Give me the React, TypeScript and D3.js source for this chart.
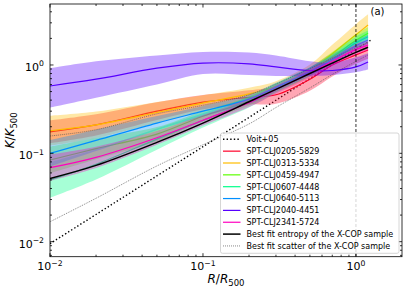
import React from "react";
import * as d3 from "d3";

const radii = [0.01, 0.02, 0.05, 0.1, 0.2, 0.3, 0.5, 0.7, 1.0, 1.2];

// K/K500 per cluster: median, lower and upper envelope
const k0205 = [0.175, 0.21, 0.3, 0.38, 0.43, 0.46, 0.69, 1.0, 1.3, 1.48];
const k0205Lo = [0.13, 0.159, 0.238, 0.316, 0.358, 0.365, 0.511, 0.741, 1.03, 1.18];
const k0205Hi = [0.236, 0.277, 0.378, 0.457, 0.517, 0.579, 0.931, 1.35, 1.64, 1.86];

const k0313 = [0.18, 0.21, 0.29, 0.37, 0.47, 0.57, 0.86, 1.34, 2.2, 2.84];
const k0313Lo = [0.122, 0.149, 0.22, 0.301, 0.4, 0.497, 0.732, 1.064, 1.67, 2.15];
const k0313Hi = [0.266, 0.297, 0.382, 0.455, 0.552, 0.654, 1.01, 1.69, 2.9, 3.74];

const k0459 = [0.084, 0.113, 0.165, 0.263, 0.39, 0.55, 0.84, 1.22, 1.9, 2.29];
const k0459Lo = [0.0594, 0.0857, 0.137, 0.229, 0.348, 0.49, 0.749, 1.063, 1.617, 1.949];
const k0459Hi = [0.119, 0.149, 0.198, 0.302, 0.438, 0.617, 0.942, 1.4, 2.23, 2.69];

const k0607 = [0.05, 0.075, 0.145, 0.236, 0.38, 0.54, 0.83, 1.17, 1.78, 2.09];
const k0607Lo = [0.0315, 0.0507, 0.11, 0.196, 0.331, 0.481, 0.74, 1.019, 1.515, 1.779];
const k0607Hi = [0.0793, 0.111, 0.191, 0.284, 0.436, 0.606, 0.931, 1.343, 2.09, 2.456];

const k0640 = [0.1, 0.14, 0.22, 0.3, 0.41, 0.56, 0.84, 1.15, 1.65, 1.92];
const k0640Lo = [0.0708, 0.106, 0.183, 0.261, 0.365, 0.499, 0.749, 1.025, 1.437, 1.672];
const k0640Hi = [0.141, 0.185, 0.264, 0.344, 0.46, 0.628, 0.942, 1.29, 1.894, 2.204];

const k2040 = [0.578, 0.69, 0.92, 1.05, 1.03, 0.95, 0.866, 0.866, 0.95, 1.08];
const k2040Lo = [0.329, 0.425, 0.6, 0.79, 0.77, 0.75, 0.75, 0.77, 0.83, 0.89];
const k2040Hi = [0.918, 1.1, 1.28, 1.4, 1.38, 1.28, 1.1, 1.06, 1.22, 1.36];

const k2341 = [0.0687, 0.09, 0.15, 0.237, 0.375, 0.53, 0.8, 1.1, 1.5, 1.68];
const k2341Lo = [0.0486, 0.0683, 0.125, 0.206, 0.334, 0.472, 0.713, 0.98, 1.307, 1.463];
const k2341Hi = [0.0972, 0.119, 0.18, 0.272, 0.421, 0.595, 0.898, 1.234, 1.722, 1.929];

// X-COP best fit and its scatter
const xcopFit = [0.052, 0.073, 0.133, 0.22, 0.383, 0.53, 0.8, 1.05, 1.39, 1.59];
const xcopUp = [0.157, 0.185, 0.28, 0.35, 0.46, 0.61, 0.91, 1.19, 1.57, 1.78];
const xcopDown = [0.0168, 0.031, 0.072, 0.125, 0.215, 0.33, 0.55, 0.78, 1.1, 1.3];

// Voit+05 baseline
const voitR = [0.01, 0.1, 1.0, 1.28];
const voitK = [0.0095, 0.119, 1.5, 1.96];

const clusterNames = [
  "SPT-CLJ0205-5829",
  "SPT-CLJ0313-5334",
  "SPT-CLJ0459-4947",
  "SPT-CLJ0607-4448",
  "SPT-CLJ0640-5113",
  "SPT-CLJ2040-4451",
  "SPT-CLJ2341-5724",
];
const clusterColors = ["#ff0029", "#ffbc00", "#5cff00", "#00ff89", "#008fff", "#5700ff", "#ff00bf"];
const clusterMid = [k0205, k0313, k0459, k0607, k0640, k2040, k2341];
const clusterLo = [k0205Lo, k0313Lo, k0459Lo, k0607Lo, k0640Lo, k2040Lo, k2341Lo];
const clusterHi = [k0205Hi, k0313Hi, k0459Hi, k0607Hi, k0640Hi, k2040Hi, k2341Hi];

const xMajor = [0.01, 0.1, 1];
const yMajor = [0.01, 0.1, 1];
const xMajorLabels = ["\u22122", "\u22121", "0"];
const yMajorLabels = ["\u22122", "\u22121", "0"];

const W = 407;
const H = 291;
const left = 50;
const right = 402;
const top = 4;
const bottom = 256.7;
const font = "DejaVu Sans";

const App = () => {
  const x = d3.scaleLog().domain([0.01, 2]).range([left, right]);
  const y = d3.scaleLog().domain([0.00676, 4.9]).range([bottom, top]);
  const smooth = d3.curveCatmullRom.alpha(0.5);

  const path = (rs: number[], ks: number[]) =>
    d3.line<number>()
      .x((_, i) => x(rs[i]))
      .y((d) => y(d))
      .curve(smooth)(ks) || "";
  const band = (rs: number[], lo: number[], hi: number[]) =>
    d3.area<number>()
      .x((_, i) => x(rs[i]))
      .y0((_, i) => y(lo[i]))
      .y1((d) => y(d))
      .curve(smooth)(hi) || "";

  const minor = (dom: number[]) => {
    const out: number[] = [];
    for (let e = -3; e <= 1; e++) {
      for (let m = 2; m <= 9; m++) {
        const v = m * Math.pow(10, e);
        if (v > dom[0] && v < dom[1]) out.push(v);
      }
    }
    return out;
  };
  const xMinor = minor([0.01, 2]);
  const yMinor = minor([0.00676, 4.9]);

  const legendRows = [
    { label: "Voit+05", kind: "voit", color: "#000" },
    ...clusterNames.map((n, i) => ({ label: n, kind: "cl", color: clusterColors[i] })),
    { label: "Best fit entropy of the X-COP sample", kind: "fit", color: "#000" },
    { label: "Best fit scatter of the X-COP sample", kind: "scatter", color: "#555" },
  ];
  const legX = 220.5;
  const legY = 133;
  const rowStep = 11.85;

  return (
    <svg width={W} height={H} style={{ position: "absolute", left: 0, top: 0 }} fontFamily={font}>
      <rect width={W} height={H} fill="#fff" />
      <defs>
        <clipPath id="plotclip">
          <rect x={left} y={top} width={right - left} height={bottom - top} />
        </clipPath>
      </defs>
      <g clipPath="url(#plotclip)">
        <path d={path(voitR, voitK)} fill="none" stroke="#000" strokeWidth={1.4} strokeDasharray="1.4,2.2" />
        {clusterNames.map((n, i) => (
          <g key={n}>
            <path d={band(radii, clusterLo[i], clusterHi[i])} fill={clusterColors[i]} fillOpacity={0.35} stroke="none" />
            <path d={path(radii, clusterMid[i])} fill="none" stroke={clusterColors[i]} strokeWidth={1.2} />
          </g>
        ))}
        <path d={path(radii, xcopFit)} fill="none" stroke="#000" strokeWidth={1.5} />
        <path d={path(radii, xcopUp)} fill="none" stroke="#555" strokeWidth={0.7} strokeDasharray="1,1" />
        <path d={path(radii, xcopDown)} fill="none" stroke="#555" strokeWidth={0.7} strokeDasharray="1,1" />
        <line x1={x(1)} x2={x(1)} y1={top} y2={bottom} stroke="#000" strokeWidth={0.8} strokeDasharray="3,2" />
      </g>

      {/* ticks, pointing inward on all sides */}
      <g stroke="#000" strokeWidth={0.8}>
        {xMajor.map((v) => (
          <g key={"xM" + v}>
            <line x1={x(v)} x2={x(v)} y1={bottom} y2={bottom - 3.5} />
            <line x1={x(v)} x2={x(v)} y1={top} y2={top + 3.5} />
          </g>
        ))}
        {xMinor.map((v) => (
          <g key={"xm" + v}>
            <line x1={x(v)} x2={x(v)} y1={bottom} y2={bottom - 2} />
            <line x1={x(v)} x2={x(v)} y1={top} y2={top + 2} />
          </g>
        ))}
        {yMajor.map((v) => (
          <g key={"yM" + v}>
            <line x1={left} x2={left + 3.5} y1={y(v)} y2={y(v)} />
            <line x1={right} x2={right - 3.5} y1={y(v)} y2={y(v)} />
          </g>
        ))}
        {yMinor.map((v) => (
          <g key={"ym" + v}>
            <line x1={left} x2={left + 2} y1={y(v)} y2={y(v)} />
            <line x1={right} x2={right - 2} y1={y(v)} y2={y(v)} />
          </g>
        ))}
      </g>
      <rect x={left} y={top} width={right - left} height={bottom - top} fill="none" stroke="#000" strokeWidth={0.8} />

      {/* tick labels */}
      {xMajor.map((v, i) => (
        <text key={"xl" + v} x={x(v)} y={bottom + 13.5} textAnchor="middle" fontSize={11}>
          10<tspan dy={-4.5} fontSize={7.7}>{xMajorLabels[i]}</tspan>
        </text>
      ))}
      {yMajor.map((v, i) => (
        <text key={"yl" + v} x={left - 6} y={y(v) + 6} textAnchor="end" fontSize={11}>
          10<tspan dy={-4.5} fontSize={7.7}>{yMajorLabels[i]}</tspan>
        </text>
      ))}

      {/* axis labels */}
      <text x={(left + right) / 2} y={283} textAnchor="middle" fontSize={12}>
        <tspan fontStyle="italic">R</tspan>/<tspan fontStyle="italic">R</tspan>
        <tspan dy={3} fontSize={8.5}>500</tspan>
      </text>
      <text transform={`translate(14,${(top + bottom) / 2}) rotate(-90)`} textAnchor="middle" fontSize={12}>
        <tspan fontStyle="italic">K</tspan>/<tspan fontStyle="italic">K</tspan>
        <tspan dy={3} fontSize={8.5}>500</tspan>
      </text>

      <text x={370.5} y={14.5} fontSize={10}>(a)</text>

      {/* legend */}
      <rect x={legX} y={legY} width={399 - legX} height={253.3 - legY} rx={2} fill="#fff" fillOpacity={0.8} stroke="#cccccc" strokeWidth={0.8} />
      {legendRows.map((r, i) => {
        const cy = legY + 6.3 + i * rowStep;
        return (
          <g key={r.label}>
            <line
              x1={legX + 2.5}
              x2={legX + 20}
              y1={cy}
              y2={cy}
              stroke={r.color}
              strokeWidth={r.kind === "scatter" ? 0.7 : r.kind === "fit" ? 1.5 : r.kind === "voit" ? 1.4 : 1.2}
              strokeDasharray={r.kind === "voit" ? "1.4,2.2" : r.kind === "scatter" ? "1,1" : undefined}
            />
            <text x={legX + 26} y={cy + 2.9} fontSize={8}>{r.label}</text>
          </g>
        );
      })}
    </svg>
  );
};

export default App;
